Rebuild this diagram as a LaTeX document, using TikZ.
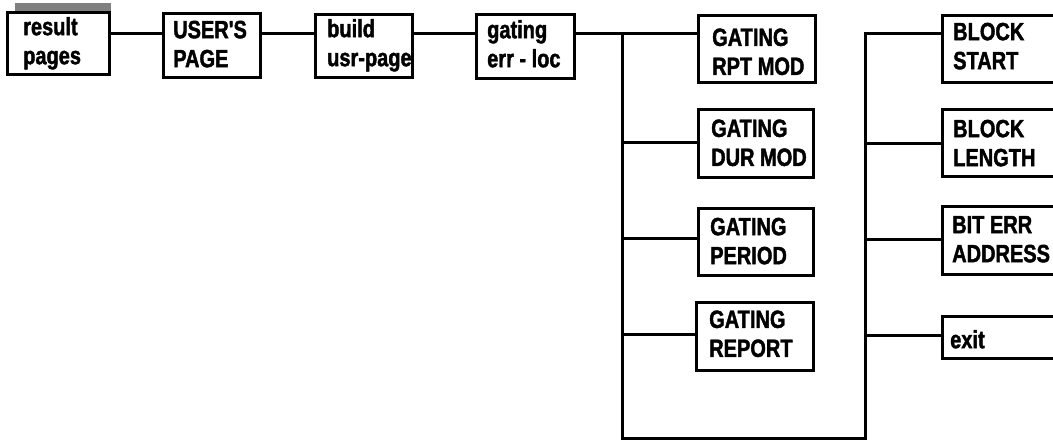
\documentclass[tikz,border=0pt]{standalone}
\usepackage{fontspec}
\newfontfamily\cond{Liberation Sans}[FakeStretch=0.8, BoldFeatures={FakeBold=1.6}]
\begin{document}
\begin{tikzpicture}[x=1pt,y=-1pt,
  box/.style={draw, line width=2.8pt, fill=white, inner sep=0pt, anchor=north west},
  txt/.style={anchor=north west, inner sep=0pt, align=left,
    font=\cond\bfseries\fontsize{25}{29}\selectfont},
  conn/.style={line width=3pt}]
\clip (0,0) rectangle (1053,440);
% shadow of first box
\fill[black!50] (15,3) rectangle (111,72);
% boxes
\node[box, minimum width=102pt, minimum height=62pt] (res) at (6,11) {};
\node[box, minimum width=97pt, minimum height=64pt] (usr) at (162,12) {};
\node[box, minimum width=97pt, minimum height=63pt] (bld) at (314,13) {};
\node[box, minimum width=98pt, minimum height=64pt] (gat) at (475,13) {};
\node[box, minimum width=117pt, minimum height=67pt] (rpt) at (697,14) {};
\node[box, minimum width=115pt, minimum height=68pt] (dur) at (697,108) {};
\node[box, minimum width=115pt, minimum height=67pt] (per) at (697,207) {};
\node[box, minimum width=117pt, minimum height=68pt] (rep) at (695,301) {};
\node[box, minimum width=130pt, minimum height=67pt] (bs) at (941,14) {};
\node[box, minimum width=130pt, minimum height=67pt] (bl) at (941,108) {};
\node[box, minimum width=130pt, minimum height=68pt] (be) at (941,205) {};
\node[box, minimum width=130pt, minimum height=42pt] (ex) at (941,315) {};
% texts
\node[txt] (tres) at (23,15) {\rule{0pt}{20pt}result\\pages};
\node[txt] (tusr) at (173,18) {\rule{0pt}{20pt}USER'S\\PAGE};
\node[txt] (tbld) at (327,17) {\rule{0pt}{20pt}build\\usr-page};
\node[txt] (tgat) at (487,18) {\rule{0pt}{20pt}gating\\err - loc};
\node[txt] (trpt) at (712,25.7) {\rule{0pt}{20pt}GATING\\RPT MOD};
\node[txt] (tdur) at (711,116.7) {\rule{0pt}{20pt}GATING\\DUR MOD};
\node[txt] (tper) at (710,215) {\rule{0pt}{20pt}GATING\\PERIOD};
\node[txt] (trep) at (709,307.7) {\rule{0pt}{20pt}GATING\\REPORT};
\node[txt] (tbs) at (953,20) {\rule{0pt}{20pt}BLOCK\\START};
\node[txt] (tbl) at (953,117) {\rule{0pt}{20pt}BLOCK\\LENGTH};
\node[txt] (tbe) at (952,213) {\rule{0pt}{20pt}BIT ERR\\ADDRESS};
\node[txt] (tex) at (950,328) {\rule{0pt}{20pt}exit};
% bus coordinates
\coordinate (row) at (0,33);
\coordinate (lt) at (622,33);
\coordinate (l2) at (622,142);
\coordinate (l3) at (622,238);
\coordinate (l4) at (622,334);
\coordinate (lb) at (622,438);
\coordinate (rb) at (865,438);
\coordinate (rt) at (865,33);
\coordinate (r2) at (865,143);
\coordinate (r3) at (865,239);
\coordinate (r4) at (865,335);
% connectors
\draw[conn] (res.east |- row) -- (usr.west |- row);
\draw[conn] (usr.east |- row) -- (bld.west |- row);
\draw[conn] (bld.east |- row) -- (gat.west |- row);
\draw[conn] (gat.east |- row) -- (rpt.west |- row);
\draw[conn] (lt) -- (lb) -- (rb) -- (rt) -- (bs.west |- rt);
\draw[conn] (l2) -- (dur.west |- l2);
\draw[conn] (l3) -- (per.west |- l3);
\draw[conn] (l4) -- (rep.west |- l4);
\draw[conn] (r2) -- (bl.west |- r2);
\draw[conn] (r3) -- (be.west |- r3);
\draw[conn] (r4) -- (ex.west |- r4);
\end{tikzpicture}
\end{document}
